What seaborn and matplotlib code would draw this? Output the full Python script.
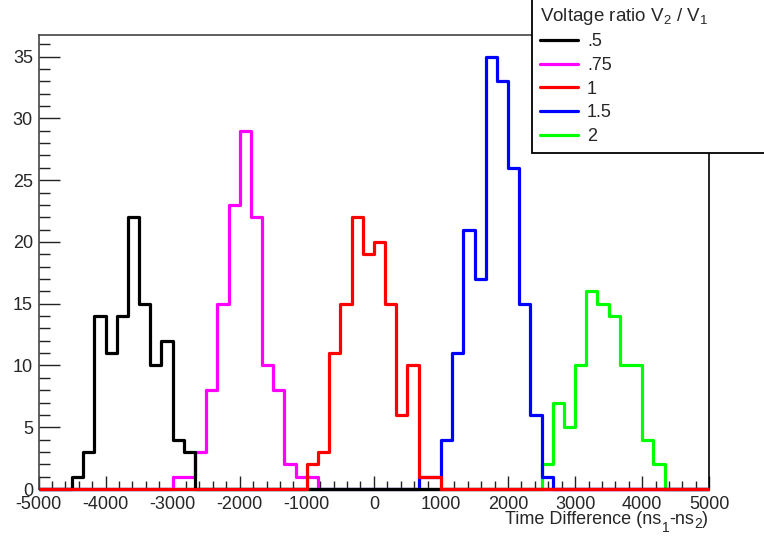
import numpy as np
import pandas as pd
import matplotlib
matplotlib.use("Agg")
import matplotlib.pyplot as plt
from matplotlib.lines import Line2D
from matplotlib.ticker import MultipleLocator
import seaborn as sns

# ---- data (60 bins from -5000 to 5000) ----
x_min, x_max, n_bins = -5000, 5000, 60

labels = [".5", ".75", "1", "1.5", "2"]
colors = ["#000000", "#ff00ff", "#ff0000", "#0000ff", "#00ff00"]

black_start = -4500
black_counts = [1, 3, 14, 11, 14, 22, 15, 10, 12, 4, 3]
magenta_start = -3000
magenta_counts = [1, 1, 3, 8, 15, 23, 29, 22, 10, 8, 2, 1, 1]
red_start = -1000
red_counts = [2, 3, 11, 15, 22, 19, 20, 15, 6, 10, 1, 1]
blue_start = 666.667
blue_counts = [1, 1, 4, 11, 21, 17, 35, 33, 26, 15, 6, 1]
green_start = 2500
green_counts = [2, 7, 5, 10, 16, 15, 14, 10, 10, 4, 2]

series = {
    ".5": (black_start, black_counts),
    ".75": (magenta_start, magenta_counts),
    "1": (red_start, red_counts),
    "1.5": (blue_start, blue_counts),
    "2": (green_start, green_counts),
}

edges = np.linspace(x_min, x_max, n_bins + 1)
centers = 0.5 * (edges[:-1] + edges[1:])
width = edges[1] - edges[0]


def full_weights(start, counts):
    w = np.zeros(n_bins)
    i0 = int(round((start - x_min) / width))
    w[i0:i0 + len(counts)] = counts
    return w


sns.set_style("ticks")
plt.rcParams["font.family"] = ["Liberation Sans", "DejaVu Sans"]
plt.rcParams["axes.unicode_minus"] = False
plt.rcParams["mathtext.fontset"] = "custom"
plt.rcParams["mathtext.rm"] = "Liberation Sans"
plt.rcParams["mathtext.it"] = "Liberation Sans"
plt.rcParams["mathtext.default"] = "regular"

fig = plt.figure(figsize=(7.64, 5.36), dpi=100)
ax = fig.add_axes([38.5 / 764, 47 / 536, 670.8 / 764, 454 / 536])

draw_order = ["2", "1.5", ".75", ".5", "1"]
for lab in draw_order:
    start, counts = series[lab]
    c = colors[labels.index(lab)]
    df = pd.DataFrame({"x": centers, "w": full_weights(start, counts)})
    sns.histplot(data=df, x="x", weights="w", bins=n_bins,
                 binrange=(x_min, x_max), element="step",
                 fill=False, color=c, linewidth=2.3, ax=ax)
for ln in ax.lines:
    ln.set_clip_on(False)
    ln.set_solid_capstyle("butt")
    ln.set_zorder(3)

ax.set_xlim(x_min, x_max)
ax.set_ylim(0, 36.75)
ax.set_xlabel("")
ax.set_ylabel("")

ax.xaxis.set_major_locator(MultipleLocator(1000))
ax.xaxis.set_minor_locator(MultipleLocator(200))
ax.yaxis.set_major_locator(MultipleLocator(5))
ax.yaxis.set_minor_locator(MultipleLocator(1))
ax.tick_params(axis="y", which="major", direction="in", length=15, width=1,
               labelsize=13, pad=4, color="#222222")
ax.tick_params(axis="y", which="minor", direction="in", length=8, width=1,
               color="#222222")
ax.tick_params(axis="x", which="major", direction="in", length=9.5, width=1,
               labelsize=13, pad=5, color="#222222")
ax.tick_params(axis="x", which="minor", direction="in", length=5.5, width=1,
               color="#222222")
for s in ["left", "top", "right", "bottom"]:
    ax.spines[s].set_color("#444444")
    ax.spines[s].set_linewidth(1.2)
ax.spines["right"].set_color("black")

# ---- x-axis title built from pieces (ROOT-style low subscripts) ----
pieces = [("Time Difference (ns", 13, 0), ("1", 10, -8.5),
          ("-ns", 13, 0), ("2", 10, -5), (")", 13, 0)]
renderer = fig.canvas.get_renderer()
widths = []
for txt, fs, dy in pieces:
    t = fig.text(0, 0, txt, fontsize=fs)
    widths.append(t.get_window_extent(renderer).width)
    t.remove()
x_px = 708 - sum(widths)
base_y = 536 - 523.5
for (txt, fs, dy), w in zip(pieces, widths):
    fig.text(x_px / 764, (base_y + dy) / 536, txt, fontsize=fs,
             ha="left", va="baseline")
    x_px += w

handles = [Line2D([], [], color=c, lw=2.3) for c in colors]
leg = fig.legend(handles, labels, loc="upper left",
                 bbox_to_anchor=(532 / 764, 1 - 3 / 536, 0.32, 0.01),
                 mode="expand", borderaxespad=0, frameon=True,
                 fancybox=False, edgecolor="black", framealpha=1,
                 title="Voltage ratio V$_{2}$ / V$_{1}$",
                 title_fontsize=13.5, fontsize=13, handlelength=2.1,
                 handletextpad=0.5, labelspacing=0.37, borderpad=0.45,
                 alignment="left")
leg.get_frame().set_linewidth(1.3)
leg.set_zorder(10)

fig.savefig("out.png", dpi=100)
